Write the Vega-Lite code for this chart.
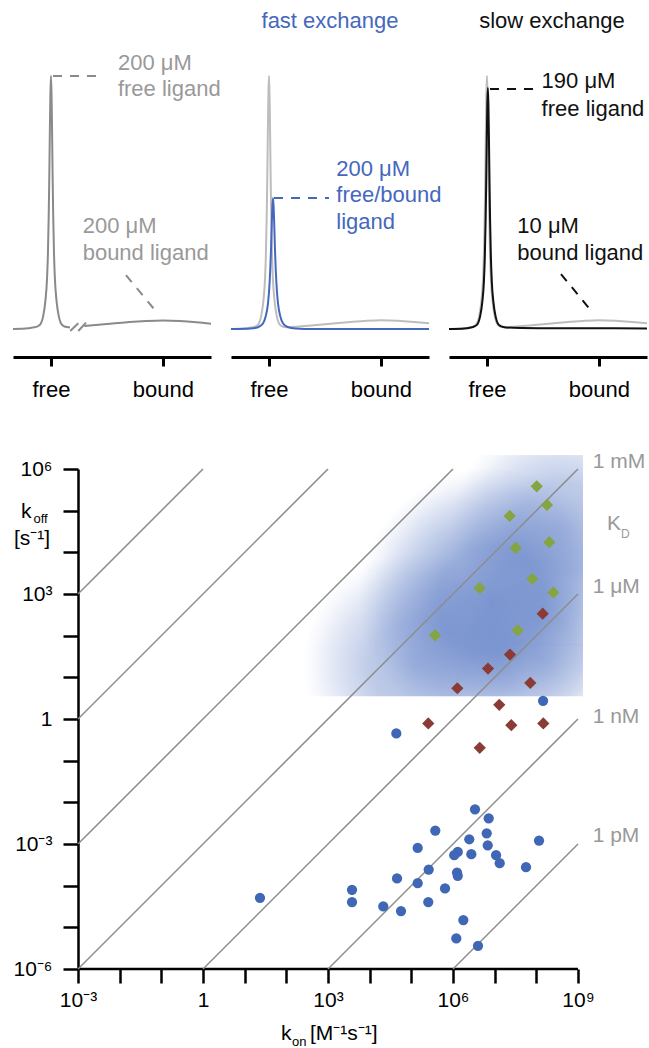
{
"$schema": "https://vega.github.io/schema/vega-lite/v6.json",
"padding": {"left": 9, "top": 9, "right": 0, "bottom": 0},
"spacing": 51,
"config": {"font": "Liberation Sans", "view": {"stroke": null}, "axis": {"grid": false}},
"datasets": {
 "ref": [
  {"shift": -0.339, "intensity": 0}, {"shift": -0.2, "intensity": 0.003}, {"shift": -0.16, "intensity": 0.006}, {"shift": -0.12, "intensity": 0.01},
  {"shift": -0.09, "intensity": 0.022}, {"shift": -0.07, "intensity": 0.05}, {"shift": -0.05, "intensity": 0.11}, {"shift": -0.035, "intensity": 0.2},
  {"shift": -0.027, "intensity": 0.3}, {"shift": -0.02, "intensity": 0.45}, {"shift": -0.015, "intensity": 0.6}, {"shift": -0.01, "intensity": 0.78},
  {"shift": -0.005, "intensity": 0.93}, {"shift": 0, "intensity": 1}, {"shift": 0.005, "intensity": 0.93}, {"shift": 0.01, "intensity": 0.78},
  {"shift": 0.015, "intensity": 0.6}, {"shift": 0.02, "intensity": 0.45}, {"shift": 0.027, "intensity": 0.3}, {"shift": 0.035, "intensity": 0.2},
  {"shift": 0.05, "intensity": 0.11}, {"shift": 0.07, "intensity": 0.05}, {"shift": 0.09, "intensity": 0.022}, {"shift": 0.12, "intensity": 0.01},
  {"shift": 0.16, "intensity": 0.007}, {"shift": 0.25, "intensity": 0.009}, {"shift": 0.4, "intensity": 0.015}, {"shift": 0.55, "intensity": 0.021},
  {"shift": 0.7, "intensity": 0.027}, {"shift": 0.85, "intensity": 0.032}, {"shift": 1.0, "intensity": 0.035}, {"shift": 1.15, "intensity": 0.033},
  {"shift": 1.3, "intensity": 0.028}, {"shift": 1.429, "intensity": 0.023}
 ],
 "p1": [
  {"seg": "free", "shift": -0.339, "intensity": 0}, {"seg": "free", "shift": -0.2, "intensity": 0.003}, {"seg": "free", "shift": -0.16, "intensity": 0.006}, {"seg": "free", "shift": -0.12, "intensity": 0.01},
  {"seg": "free", "shift": -0.09, "intensity": 0.022}, {"seg": "free", "shift": -0.07, "intensity": 0.05}, {"seg": "free", "shift": -0.05, "intensity": 0.11}, {"seg": "free", "shift": -0.035, "intensity": 0.2},
  {"seg": "free", "shift": -0.027, "intensity": 0.3}, {"seg": "free", "shift": -0.02, "intensity": 0.45}, {"seg": "free", "shift": -0.015, "intensity": 0.6}, {"seg": "free", "shift": -0.01, "intensity": 0.78},
  {"seg": "free", "shift": -0.005, "intensity": 0.93}, {"seg": "free", "shift": 0, "intensity": 1}, {"seg": "free", "shift": 0.005, "intensity": 0.93}, {"seg": "free", "shift": 0.01, "intensity": 0.78},
  {"seg": "free", "shift": 0.015, "intensity": 0.6}, {"seg": "free", "shift": 0.02, "intensity": 0.45}, {"seg": "free", "shift": 0.027, "intensity": 0.3}, {"seg": "free", "shift": 0.035, "intensity": 0.2},
  {"seg": "free", "shift": 0.05, "intensity": 0.11}, {"seg": "free", "shift": 0.07, "intensity": 0.05}, {"seg": "free", "shift": 0.09, "intensity": 0.022}, {"seg": "free", "shift": 0.12, "intensity": 0.01},
  {"seg": "free", "shift": 0.17, "intensity": 0.006},
  {"seg": "bound", "shift": 0.297, "intensity": 0.012}, {"seg": "bound", "shift": 0.4, "intensity": 0.016}, {"seg": "bound", "shift": 0.55, "intensity": 0.022}, {"seg": "bound", "shift": 0.7, "intensity": 0.028},
  {"seg": "bound", "shift": 0.85, "intensity": 0.032}, {"seg": "bound", "shift": 1.0, "intensity": 0.034}, {"seg": "bound", "shift": 1.15, "intensity": 0.032}, {"seg": "bound", "shift": 1.3, "intensity": 0.027},
  {"seg": "bound", "shift": 1.429, "intensity": 0.021}
 ],
 "fast": [
  {"shift": -0.339, "intensity": 0}, {"shift": -0.164, "intensity": 0.002}, {"shift": -0.094, "intensity": 0.008}, {"shift": -0.054, "intensity": 0.022},
  {"shift": -0.029, "intensity": 0.05}, {"shift": -0.009, "intensity": 0.1}, {"shift": 0.001, "intensity": 0.15}, {"shift": 0.011, "intensity": 0.23},
  {"shift": 0.018, "intensity": 0.31}, {"shift": 0.024, "intensity": 0.4}, {"shift": 0.03, "intensity": 0.48}, {"shift": 0.036, "intensity": 0.518},
  {"shift": 0.042, "intensity": 0.48}, {"shift": 0.048, "intensity": 0.4}, {"shift": 0.054, "intensity": 0.31}, {"shift": 0.061, "intensity": 0.23},
  {"shift": 0.071, "intensity": 0.15}, {"shift": 0.081, "intensity": 0.1}, {"shift": 0.101, "intensity": 0.05}, {"shift": 0.126, "intensity": 0.022},
  {"shift": 0.166, "intensity": 0.008}, {"shift": 0.236, "intensity": 0.002}, {"shift": 0.4, "intensity": 0}, {"shift": 1.429, "intensity": 0}
 ],
 "slow": [
  {"shift": -0.339, "intensity": 0}, {"shift": -0.2, "intensity": 0.002}, {"shift": -0.152, "intensity": 0.005}, {"shift": -0.112, "intensity": 0.01},
  {"shift": -0.082, "intensity": 0.021}, {"shift": -0.062, "intensity": 0.048}, {"shift": -0.042, "intensity": 0.105}, {"shift": -0.027, "intensity": 0.19},
  {"shift": -0.019, "intensity": 0.286}, {"shift": -0.012, "intensity": 0.429}, {"shift": -0.007, "intensity": 0.572}, {"shift": -0.002, "intensity": 0.743},
  {"shift": 0.003, "intensity": 0.886}, {"shift": 0.008, "intensity": 0.953}, {"shift": 0.013, "intensity": 0.886}, {"shift": 0.018, "intensity": 0.743},
  {"shift": 0.023, "intensity": 0.572}, {"shift": 0.028, "intensity": 0.429}, {"shift": 0.035, "intensity": 0.286}, {"shift": 0.043, "intensity": 0.19},
  {"shift": 0.058, "intensity": 0.105}, {"shift": 0.078, "intensity": 0.048}, {"shift": 0.098, "intensity": 0.021}, {"shift": 0.128, "intensity": 0.01},
  {"shift": 0.168, "intensity": 0.006}, {"shift": 0.3, "intensity": 0.004}, {"shift": 0.6, "intensity": 0.003}, {"shift": 1.0, "intensity": 0.003},
  {"shift": 1.429, "intensity": 0.002}
 ],
 "breaks": [
  {"id": 1, "shift": 0.172, "intensity": -0.008}, {"id": 1, "shift": 0.244, "intensity": 0.0225},
  {"id": 2, "shift": 0.244, "intensity": -0.008}, {"id": 2, "shift": 0.3125, "intensity": 0.025}
 ],
 "dashes": [
  {"panel": 1, "id": "h", "shift": 0.018, "intensity": 1.0}, {"panel": 1, "id": "h", "shift": 0.464, "intensity": 1.0},
  {"panel": 1, "id": "d", "shift": 0.67, "intensity": 0.213}, {"panel": 1, "id": "d", "shift": 0.952, "intensity": 0.062},
  {"panel": 2, "id": "h", "shift": 0.045, "intensity": 0.518}, {"panel": 2, "id": "h", "shift": 0.536, "intensity": 0.518},
  {"panel": 3, "id": "h", "shift": 0.027, "intensity": 0.949}, {"panel": 3, "id": "h", "shift": 0.455, "intensity": 0.949},
  {"panel": 3, "id": "d", "shift": 0.661, "intensity": 0.217}, {"panel": 3, "id": "d", "shift": 0.949, "intensity": 0.062}
 ],
 "labels": [
  {"panel": 1, "role": "label", "text": "200 μM", "shift": 0.598, "intensity": 1.024},
  {"panel": 1, "role": "label", "text": "free ligand", "shift": 0.598, "intensity": 0.921},
  {"panel": 1, "role": "label", "text": "200 μM", "shift": 0.283, "intensity": 0.379},
  {"panel": 1, "role": "label", "text": "bound ligand", "shift": 0.283, "intensity": 0.273},
  {"panel": 2, "role": "title", "text": "fast exchange", "shift": 0.545, "intensity": 1.19},
  {"panel": 2, "role": "label", "text": "200 μM", "shift": 0.601, "intensity": 0.605},
  {"panel": 2, "role": "label", "text": "free/bound", "shift": 0.601, "intensity": 0.502},
  {"panel": 2, "role": "label", "text": "ligand", "shift": 0.601, "intensity": 0.395},
  {"panel": 3, "role": "title", "text": "slow exchange", "shift": 0.58, "intensity": 1.19},
  {"panel": 3, "role": "label", "text": "190 μM", "shift": 0.488, "intensity": 0.953},
  {"panel": 3, "role": "label", "text": "free ligand", "shift": 0.488, "intensity": 0.842},
  {"panel": 3, "role": "label", "text": "10 μM", "shift": 0.271, "intensity": 0.379},
  {"panel": 3, "role": "label", "text": "bound ligand", "shift": 0.271, "intensity": 0.273}
 ],
 "kd": [
  {"kd": 1e6, "kon": 0.001, "koff": 1000}, {"kd": 1e6, "kon": 1, "koff": 1e6},
  {"kd": 1e3, "kon": 0.001, "koff": 1}, {"kd": 1e3, "kon": 1000, "koff": 1e6},
  {"kd": 1, "kon": 0.001, "koff": 0.001}, {"kd": 1, "kon": 1e6, "koff": 1e6},
  {"kd": 1e-3, "kon": 0.001, "koff": 1e-6}, {"kd": 1e-3, "kon": 1e9, "koff": 1e6},
  {"kd": 1e-6, "kon": 1, "koff": 1e-6}, {"kd": 1e-6, "kon": 1e9, "koff": 1000},
  {"kd": 1e-9, "kon": 1000, "koff": 1e-6}, {"kd": 1e-9, "kon": 1e9, "koff": 1},
  {"kd": 1e-12, "kon": 1e6, "koff": 1e-6}, {"kd": 1e-12, "kon": 1e9, "koff": 0.001}
 ],
 "blobs": [
  {"part": 1, "kon": 171, "kon_end": 9.82e7, "koff": 1.94e6, "koff_end": 3.46},
  {"part": 2, "kon": 2290, "kon_end": 1.32e9, "koff": 1.94e6, "koff_end": 3.46},
  {"part": 3, "kon": 3.63e4, "kon_end": 1.32e9, "koff": 2.16e6, "koff_end": 60.8},
  {"part": 4, "kon": 7.59e5, "kon_end": 1.32e9, "koff": 5920, "koff_end": 3.46}
 ],
 "pts": [
  {"set": "A", "kon": 3.37e6, "koff": 6.79e-3}, {"set": "A", "kon": 7.19e6, "koff": 4.14e-3}, {"set": "A", "kon": 3.76e5, "koff": 2.10e-3},
  {"set": "A", "kon": 6.44e6, "koff": 1.81e-3}, {"set": "A", "kon": 2.46e6, "koff": 1.30e-3}, {"set": "A", "kon": 1.16e8, "koff": 1.21e-3},
  {"set": "A", "kon": 1.42e5, "koff": 8.04e-4}, {"set": "A", "kon": 6.81e6, "koff": 9.33e-4}, {"set": "A", "kon": 1.30e6, "koff": 6.46e-4},
  {"set": "A", "kon": 1.07e6, "koff": 5.38e-4}, {"set": "A", "kon": 2.75e6, "koff": 5.68e-4}, {"set": "A", "kon": 1.08e7, "koff": 5.38e-4},
  {"set": "A", "kon": 1.32e7, "koff": 3.46e-4}, {"set": "A", "kon": 5.65e7, "koff": 2.77e-4}, {"set": "A", "kon": 2.61e5, "koff": 2.44e-4},
  {"set": "A", "kon": 1.25e6, "koff": 2.07e-4}, {"set": "A", "kon": 1.30e6, "koff": 1.72e-4}, {"set": "A", "kon": 4.53e4, "koff": 1.49e-4},
  {"set": "A", "kon": 3.77e3, "koff": 7.93e-5}, {"set": "A", "kon": 1.42e5, "koff": 1.15e-4}, {"set": "A", "kon": 6.43e5, "koff": 8.57e-5},
  {"set": "A", "kon": 3.77e3, "koff": 4.03e-5}, {"set": "A", "kon": 2.12e4, "koff": 3.18e-5}, {"set": "A", "kon": 2.55e5, "koff": 4.03e-5},
  {"set": "A", "kon": 5.65e4, "koff": 2.45e-5}, {"set": "A", "kon": 1.77e6, "koff": 1.49e-5}, {"set": "A", "kon": 1.20e6, "koff": 5.43e-6},
  {"set": "A", "kon": 3.98e6, "koff": 3.61e-6}, {"set": "A", "kon": 23.3, "koff": 5.11e-5}, {"set": "A", "kon": 4.36e4, "koff": 0.45},
  {"set": "A", "kon": 1.45e8, "koff": 2.73},
  {"set": "B", "kon": 1.42e8, "koff": 336}, {"set": "B", "kon": 2.33e7, "koff": 35.1}, {"set": "B", "kon": 6.92e6, "koff": 16.2},
  {"set": "B", "kon": 7.16e7, "koff": 7.36}, {"set": "B", "kon": 1.27e6, "koff": 5.47}, {"set": "B", "kon": 1.29e7, "koff": 2.19},
  {"set": "B", "kon": 2.55e5, "koff": 0.78}, {"set": "B", "kon": 2.51e7, "koff": 0.711}, {"set": "B", "kon": 1.47e8, "koff": 0.78},
  {"set": "B", "kon": 4.38e6, "koff": 0.204},
  {"set": "C", "kon": 1.02e8, "koff": 3.85e5}, {"set": "C", "kon": 1.80e8, "koff": 1.37e5}, {"set": "C", "kon": 2.30e7, "koff": 7.48e4},
  {"set": "C", "kon": 3.20e7, "koff": 1.28e4}, {"set": "C", "kon": 2.05e8, "koff": 1.75e4}, {"set": "C", "kon": 8.00e7, "koff": 2.32e3},
  {"set": "C", "kon": 4.38e6, "koff": 1.39e3}, {"set": "C", "kon": 2.55e8, "koff": 1.09e3}, {"set": "C", "kon": 3.57e7, "koff": 134},
  {"set": "C", "kon": 3.70e5, "koff": 102}
 ],
 "kdlabels": [
  {"size": "big", "text": "1 mM", "kon": 2.25e9, "koff": 1.47e6},
  {"size": "big", "text": "K", "kon": 4.97e9, "koff": 4.82e4},
  {"size": "small", "text": "D", "kon": 1.07e10, "koff": 2.77e4},
  {"size": "big", "text": "1 μM", "kon": 2.25e9, "koff": 1.49e3},
  {"size": "big", "text": "1 nM", "kon": 2.25e9, "koff": 1.09},
  {"size": "big", "text": "1 pM", "kon": 2.25e9, "koff": 1.53e-3}
 ],
 "axtitles": [
  {"size": "big", "text": "k", "kon": 4.28e-5, "koff": 6.70e4},
  {"size": "small", "text": "off", "kon": 8.55e-5, "koff": 5.09e4},
  {"size": "big", "text": "[s⁻¹]", "kon": 2.91e-5, "koff": 1.51e4},
  {"size": "big", "text": "k", "kon": 74.5, "koff": 2.0e-8},
  {"size": "small", "text": "on", "kon": 137, "koff": 1.43e-8},
  {"size": "big", "text": "[M⁻¹s⁻¹]", "kon": 370, "koff": 2.0e-8}
 ]
},
"vconcat": [
 {
  "hconcat": [
   {
    "width": 198, "height": 312,
    "layer": [
     {"data": {"name": "p1"}, "mark": {"type": "line", "color": "#8a8a8a", "strokeWidth": 2, "interpolate": "monotone"},
      "encoding": {
       "x": {"field": "shift", "type": "quantitative", "scale": {"domain": [-0.339, 1.429], "nice": false, "zero": false}, "axis": {"values": [0, 1], "labelExpr": "datum.value == 0 ? 'free' : 'bound'", "title": null, "grid": false, "domainColor": "#000000", "domainWidth": 3, "tickColor": "#000000", "tickWidth": 3, "tickSize": 9, "labelFontSize": 22, "labelColor": "#000000", "labelPadding": 13, "labelFlush": false, "labelOverlap": false}},
       "y": {"field": "intensity", "type": "quantitative", "scale": {"domain": [-0.1107, 1.1225], "nice": false, "zero": false}, "axis": null},
       "detail": {"field": "seg", "type": "nominal"}}},
     {"data": {"name": "breaks"}, "mark": {"type": "line", "color": "#8a8a8a", "strokeWidth": 2},
      "encoding": {
       "x": {"field": "shift", "type": "quantitative", "scale": {"domain": [-0.339, 1.429], "nice": false, "zero": false}},
       "y": {"field": "intensity", "type": "quantitative", "scale": {"domain": [-0.1107, 1.1225], "nice": false, "zero": false}, "axis": null},
       "detail": {"field": "id", "type": "nominal"}}},
     {"data": {"name": "dashes"}, "transform": [{"filter": "datum.panel == 1"}], "mark": {"type": "line", "color": "#8a8a8a", "strokeWidth": 2, "strokeDash": [9, 8]},
      "encoding": {
       "x": {"field": "shift", "type": "quantitative", "scale": {"domain": [-0.339, 1.429], "nice": false, "zero": false}},
       "y": {"field": "intensity", "type": "quantitative", "scale": {"domain": [-0.1107, 1.1225], "nice": false, "zero": false}, "axis": null},
       "detail": {"field": "id", "type": "nominal"}}},
     {"data": {"name": "labels"}, "transform": [{"filter": "datum.panel == 1"}], "mark": {"type": "text", "align": "left", "baseline": "alphabetic", "fontSize": 22, "color": "#999999"},
      "encoding": {
       "x": {"field": "shift", "type": "quantitative", "scale": {"domain": [-0.339, 1.429], "nice": false, "zero": false}},
       "y": {"field": "intensity", "type": "quantitative", "scale": {"domain": [-0.1107, 1.1225], "nice": false, "zero": false}, "axis": null},
       "text": {"field": "text", "type": "nominal"}}}
    ]
   },
   {
    "width": 198, "height": 312,
    "layer": [
     {"data": {"name": "ref"}, "mark": {"type": "line", "color": "#bdbdbd", "strokeWidth": 2, "interpolate": "monotone"},
      "encoding": {
       "x": {"field": "shift", "type": "quantitative", "scale": {"domain": [-0.339, 1.429], "nice": false, "zero": false}, "axis": {"values": [0, 1], "labelExpr": "datum.value == 0 ? 'free' : 'bound'", "title": null, "grid": false, "domainColor": "#000000", "domainWidth": 3, "tickColor": "#000000", "tickWidth": 3, "tickSize": 9, "labelFontSize": 22, "labelColor": "#000000", "labelPadding": 13, "labelFlush": false, "labelOverlap": false}},
       "y": {"field": "intensity", "type": "quantitative", "scale": {"domain": [-0.1107, 1.1225], "nice": false, "zero": false}, "axis": null}}},
     {"data": {"name": "fast"}, "mark": {"type": "line", "color": "#4468bd", "strokeWidth": 2, "interpolate": "monotone"},
      "encoding": {
       "x": {"field": "shift", "type": "quantitative", "scale": {"domain": [-0.339, 1.429], "nice": false, "zero": false}},
       "y": {"field": "intensity", "type": "quantitative", "scale": {"domain": [-0.1107, 1.1225], "nice": false, "zero": false}, "axis": null}}},
     {"data": {"name": "dashes"}, "transform": [{"filter": "datum.panel == 2"}], "mark": {"type": "line", "color": "#4468bd", "strokeWidth": 2, "strokeDash": [9, 8]},
      "encoding": {
       "x": {"field": "shift", "type": "quantitative", "scale": {"domain": [-0.339, 1.429], "nice": false, "zero": false}},
       "y": {"field": "intensity", "type": "quantitative", "scale": {"domain": [-0.1107, 1.1225], "nice": false, "zero": false}, "axis": null},
       "detail": {"field": "id", "type": "nominal"}}},
     {"data": {"name": "labels"}, "transform": [{"filter": "datum.panel == 2 && datum.role == 'label'"}], "mark": {"type": "text", "align": "left", "baseline": "alphabetic", "fontSize": 22, "color": "#4468bd"},
      "encoding": {
       "x": {"field": "shift", "type": "quantitative", "scale": {"domain": [-0.339, 1.429], "nice": false, "zero": false}},
       "y": {"field": "intensity", "type": "quantitative", "scale": {"domain": [-0.1107, 1.1225], "nice": false, "zero": false}, "axis": null},
       "text": {"field": "text", "type": "nominal"}}},
     {"data": {"name": "labels"}, "transform": [{"filter": "datum.panel == 2 && datum.role == 'title'"}], "mark": {"type": "text", "align": "center", "baseline": "alphabetic", "fontSize": 22, "color": "#4468bd"},
      "encoding": {
       "x": {"field": "shift", "type": "quantitative", "scale": {"domain": [-0.339, 1.429], "nice": false, "zero": false}},
       "y": {"field": "intensity", "type": "quantitative", "scale": {"domain": [-0.1107, 1.1225], "nice": false, "zero": false}, "axis": null},
       "text": {"field": "text", "type": "nominal"}}}
    ]
   },
   {
    "width": 198, "height": 312,
    "layer": [
     {"data": {"name": "ref"}, "mark": {"type": "line", "color": "#bdbdbd", "strokeWidth": 2, "interpolate": "monotone"},
      "encoding": {
       "x": {"field": "shift", "type": "quantitative", "scale": {"domain": [-0.339, 1.429], "nice": false, "zero": false}, "axis": {"values": [0, 1], "labelExpr": "datum.value == 0 ? 'free' : 'bound'", "title": null, "grid": false, "domainColor": "#000000", "domainWidth": 3, "tickColor": "#000000", "tickWidth": 3, "tickSize": 9, "labelFontSize": 22, "labelColor": "#000000", "labelPadding": 13, "labelFlush": false, "labelOverlap": false}},
       "y": {"field": "intensity", "type": "quantitative", "scale": {"domain": [-0.1107, 1.1225], "nice": false, "zero": false}, "axis": null}}},
     {"data": {"name": "slow"}, "mark": {"type": "line", "color": "#111111", "strokeWidth": 2, "interpolate": "monotone"},
      "encoding": {
       "x": {"field": "shift", "type": "quantitative", "scale": {"domain": [-0.339, 1.429], "nice": false, "zero": false}},
       "y": {"field": "intensity", "type": "quantitative", "scale": {"domain": [-0.1107, 1.1225], "nice": false, "zero": false}, "axis": null}}},
     {"data": {"name": "dashes"}, "transform": [{"filter": "datum.panel == 3"}], "mark": {"type": "line", "color": "#111111", "strokeWidth": 2, "strokeDash": [9, 8]},
      "encoding": {
       "x": {"field": "shift", "type": "quantitative", "scale": {"domain": [-0.339, 1.429], "nice": false, "zero": false}},
       "y": {"field": "intensity", "type": "quantitative", "scale": {"domain": [-0.1107, 1.1225], "nice": false, "zero": false}, "axis": null},
       "detail": {"field": "id", "type": "nominal"}}},
     {"data": {"name": "labels"}, "transform": [{"filter": "datum.panel == 3 && datum.role == 'label'"}], "mark": {"type": "text", "align": "left", "baseline": "alphabetic", "fontSize": 22, "color": "#111111"},
      "encoding": {
       "x": {"field": "shift", "type": "quantitative", "scale": {"domain": [-0.339, 1.429], "nice": false, "zero": false}},
       "y": {"field": "intensity", "type": "quantitative", "scale": {"domain": [-0.1107, 1.1225], "nice": false, "zero": false}, "axis": null},
       "text": {"field": "text", "type": "nominal"}}},
     {"data": {"name": "labels"}, "transform": [{"filter": "datum.panel == 3 && datum.role == 'title'"}], "mark": {"type": "text", "align": "center", "baseline": "alphabetic", "fontSize": 22, "color": "#111111"},
      "encoding": {
       "x": {"field": "shift", "type": "quantitative", "scale": {"domain": [-0.339, 1.429], "nice": false, "zero": false}},
       "y": {"field": "intensity", "type": "quantitative", "scale": {"domain": [-0.1107, 1.1225], "nice": false, "zero": false}, "axis": null},
       "text": {"field": "text", "type": "nominal"}}}
    ]
   }
  ],
  "spacing": 20,
  "bounds": "flush"
 },
 {
  "width": 565, "height": 500,
  "layer": [
   {"data": {"name": "blobs"}, "transform": [{"filter": "datum.part == 1"}],
    "mark": {"type": "rect", "strokeWidth": 0, "fill": {"gradient": "radial", "x1": 0.5, "y1": 0.867, "r1": 0, "x2": 0.5, "y2": 0.867, "r2": 0.47, "stops": [{"offset": 0, "color": "rgba(72,108,190,0.45)"}, {"offset": 0.4, "color": "rgba(72,108,190,0.36)"}, {"offset": 0.7, "color": "rgba(72,108,190,0.18)"}, {"offset": 0.9, "color": "rgba(72,108,190,0.05)"}, {"offset": 1, "color": "rgba(72,108,190,0)"}]}},
    "encoding": {
     "x": {"field": "kon", "type": "quantitative", "scale": {"type": "log", "domain": [2.754e-5, 1e9], "nice": false},
      "axis": {"values": [0.001, 0.01, 0.1, 1, 10, 100, 1000, 10000, 100000, 1000000, 10000000, 100000000, 1000000000], "labelExpr": "round(log(datum.value)/LN10)==-3?'10⁻³':round(log(datum.value)/LN10)==0?'1':round(log(datum.value)/LN10)==3?'10³':round(log(datum.value)/LN10)==6?'10⁶':round(log(datum.value)/LN10)==9?'10⁹':''", "title": null, "grid": false, "domain": false, "tickColor": "#000000", "tickWidth": 2.5, "tickSize": 14, "labelFontSize": 21, "labelColor": "#000000", "labelPadding": 6, "labelFlush": false, "labelOverlap": false, "labelBound": false}},
     "x2": {"field": "kon_end"},
     "y": {"field": "koff", "type": "quantitative", "scale": {"type": "log", "domain": [1e-6, 1e6], "nice": false},
      "axis": {"offset": -65, "values": [0.000001, 0.00001, 0.0001, 0.001, 0.01, 0.1, 1, 10, 100, 1000, 10000, 100000, 1000000], "labelExpr": "round(log(datum.value)/LN10)==-6?'10⁻⁶':round(log(datum.value)/LN10)==-3?'10⁻³':round(log(datum.value)/LN10)==0?'1':round(log(datum.value)/LN10)==3?'10³':round(log(datum.value)/LN10)==6?'10⁶':''", "title": null, "grid": false, "domainColor": "#000000", "domainWidth": 2.5, "tickColor": "#000000", "tickWidth": 2.5, "tickSize": 15, "labelFontSize": 21, "labelColor": "#000000", "labelPadding": 11, "labelFlush": false, "labelOverlap": false, "labelBound": false}},
     "y2": {"field": "koff_end"}}},
   {"data": {"name": "blobs"}, "transform": [{"filter": "datum.part == 2"}],
    "mark": {"type": "rect", "strokeWidth": 0, "fill": {"gradient": "radial", "x1": 0.617, "y1": 0.596, "r1": 0, "x2": 0.617, "y2": 0.596, "r2": 0.55, "stops": [{"offset": 0, "color": "rgba(72,108,190,0.68)"}, {"offset": 0.4, "color": "rgba(72,108,190,0.55)"}, {"offset": 0.7, "color": "rgba(72,108,190,0.27)"}, {"offset": 0.9, "color": "rgba(72,108,190,0.07)"}, {"offset": 1, "color": "rgba(72,108,190,0)"}]}},
    "encoding": {
     "x": {"field": "kon", "type": "quantitative", "scale": {"type": "log", "domain": [2.754e-5, 1e9], "nice": false}},
     "x2": {"field": "kon_end"},
     "y": {"field": "koff", "type": "quantitative", "scale": {"type": "log", "domain": [1e-6, 1e6], "nice": false}},
     "y2": {"field": "koff_end"}}},
   {"data": {"name": "blobs"}, "transform": [{"filter": "datum.part == 3"}],
    "mark": {"type": "rect", "strokeWidth": 0, "fill": {"gradient": "radial", "x1": 0.884, "y1": 0.384, "r1": 0, "x2": 0.884, "y2": 0.384, "r2": 0.58, "stops": [{"offset": 0, "color": "rgba(72,108,190,0.45)"}, {"offset": 0.4, "color": "rgba(72,108,190,0.36)"}, {"offset": 0.7, "color": "rgba(72,108,190,0.18)"}, {"offset": 0.9, "color": "rgba(72,108,190,0.05)"}, {"offset": 1, "color": "rgba(72,108,190,0)"}]}},
    "encoding": {
     "x": {"field": "kon", "type": "quantitative", "scale": {"type": "log", "domain": [2.754e-5, 1e9], "nice": false}},
     "x2": {"field": "kon_end"},
     "y": {"field": "koff", "type": "quantitative", "scale": {"type": "log", "domain": [1e-6, 1e6], "nice": false}},
     "y2": {"field": "koff_end"}}},
   {"data": {"name": "blobs"}, "transform": [{"filter": "datum.part == 4"}],
    "mark": {"type": "rect", "strokeWidth": 0, "fill": {"gradient": "radial", "x1": 0.689, "y1": 0.726, "r1": 0, "x2": 0.689, "y2": 0.726, "r2": 0.62, "stops": [{"offset": 0, "color": "rgba(72,108,190,0.35)"}, {"offset": 0.5, "color": "rgba(72,108,190,0.25)"}, {"offset": 0.8, "color": "rgba(72,108,190,0.1)"}, {"offset": 1, "color": "rgba(72,108,190,0)"}]}},
    "encoding": {
     "x": {"field": "kon", "type": "quantitative", "scale": {"type": "log", "domain": [2.754e-5, 1e9], "nice": false}},
     "x2": {"field": "kon_end"},
     "y": {"field": "koff", "type": "quantitative", "scale": {"type": "log", "domain": [1e-6, 1e6], "nice": false}},
     "y2": {"field": "koff_end"}}},
   {"data": {"values": [{"kon": 0.001, "kon_end": 1e9, "koff": 1e-6}]},
    "mark": {"type": "rule", "color": "#000000", "strokeWidth": 2.5},
    "encoding": {
     "x": {"field": "kon", "type": "quantitative", "scale": {"type": "log", "domain": [2.754e-5, 1e9], "nice": false}},
     "x2": {"field": "kon_end"},
     "y": {"field": "koff", "type": "quantitative", "scale": {"type": "log", "domain": [1e-6, 1e6], "nice": false}}}},
   {"data": {"name": "kd"}, "mark": {"type": "line", "color": "#8c8c8c", "strokeWidth": 1.5},
    "encoding": {
     "x": {"field": "kon", "type": "quantitative", "scale": {"type": "log", "domain": [2.754e-5, 1e9], "nice": false}},
     "y": {"field": "koff", "type": "quantitative", "scale": {"type": "log", "domain": [1e-6, 1e6], "nice": false}},
     "detail": {"field": "kd", "type": "nominal"}}},
   {"data": {"name": "pts"}, "transform": [{"filter": "datum.set == 'A'"}], "mark": {"type": "point", "shape": "circle", "filled": true, "opacity": 1, "size": 105, "color": "#3f67b5"},
    "encoding": {
     "x": {"field": "kon", "type": "quantitative", "scale": {"type": "log", "domain": [2.754e-5, 1e9], "nice": false}},
     "y": {"field": "koff", "type": "quantitative", "scale": {"type": "log", "domain": [1e-6, 1e6], "nice": false}}}},
   {"data": {"name": "pts"}, "transform": [{"filter": "datum.set == 'B'"}], "mark": {"type": "point", "shape": "diamond", "filled": true, "opacity": 1, "size": 150, "color": "#8b3b35"},
    "encoding": {
     "x": {"field": "kon", "type": "quantitative", "scale": {"type": "log", "domain": [2.754e-5, 1e9], "nice": false}},
     "y": {"field": "koff", "type": "quantitative", "scale": {"type": "log", "domain": [1e-6, 1e6], "nice": false}}}},
   {"data": {"name": "pts"}, "transform": [{"filter": "datum.set == 'C'"}], "mark": {"type": "point", "shape": "diamond", "filled": true, "opacity": 1, "size": 150, "color": "#85a442"},
    "encoding": {
     "x": {"field": "kon", "type": "quantitative", "scale": {"type": "log", "domain": [2.754e-5, 1e9], "nice": false}},
     "y": {"field": "koff", "type": "quantitative", "scale": {"type": "log", "domain": [1e-6, 1e6], "nice": false}}}},
   {"data": {"name": "kdlabels"}, "transform": [{"filter": "datum.size == 'big'"}], "mark": {"type": "text", "align": "left", "baseline": "middle", "fontSize": 21, "color": "#999999"},
    "encoding": {
     "x": {"field": "kon", "type": "quantitative", "scale": {"type": "log", "domain": [2.754e-5, 1e9], "nice": false}},
     "y": {"field": "koff", "type": "quantitative", "scale": {"type": "log", "domain": [1e-6, 1e6], "nice": false}},
     "text": {"field": "text", "type": "nominal"}}},
   {"data": {"name": "kdlabels"}, "transform": [{"filter": "datum.size == 'small'"}], "mark": {"type": "text", "align": "left", "baseline": "middle", "fontSize": 12, "color": "#999999"},
    "encoding": {
     "x": {"field": "kon", "type": "quantitative", "scale": {"type": "log", "domain": [2.754e-5, 1e9], "nice": false}},
     "y": {"field": "koff", "type": "quantitative", "scale": {"type": "log", "domain": [1e-6, 1e6], "nice": false}},
     "text": {"field": "text", "type": "nominal"}}},
   {"data": {"name": "axtitles"}, "transform": [{"filter": "datum.size == 'big'"}], "mark": {"type": "text", "align": "left", "baseline": "alphabetic", "fontSize": 21, "color": "#000000"},
    "encoding": {
     "x": {"field": "kon", "type": "quantitative", "scale": {"type": "log", "domain": [2.754e-5, 1e9], "nice": false}},
     "y": {"field": "koff", "type": "quantitative", "scale": {"type": "log", "domain": [1e-6, 1e6], "nice": false}},
     "text": {"field": "text", "type": "nominal"}}},
   {"data": {"name": "axtitles"}, "transform": [{"filter": "datum.size == 'small'"}], "mark": {"type": "text", "align": "left", "baseline": "alphabetic", "fontSize": 13, "color": "#000000"},
    "encoding": {
     "x": {"field": "kon", "type": "quantitative", "scale": {"type": "log", "domain": [2.754e-5, 1e9], "nice": false}},
     "y": {"field": "koff", "type": "quantitative", "scale": {"type": "log", "domain": [1e-6, 1e6], "nice": false}},
     "text": {"field": "text", "type": "nominal"}}}
  ]
 }
]
}
